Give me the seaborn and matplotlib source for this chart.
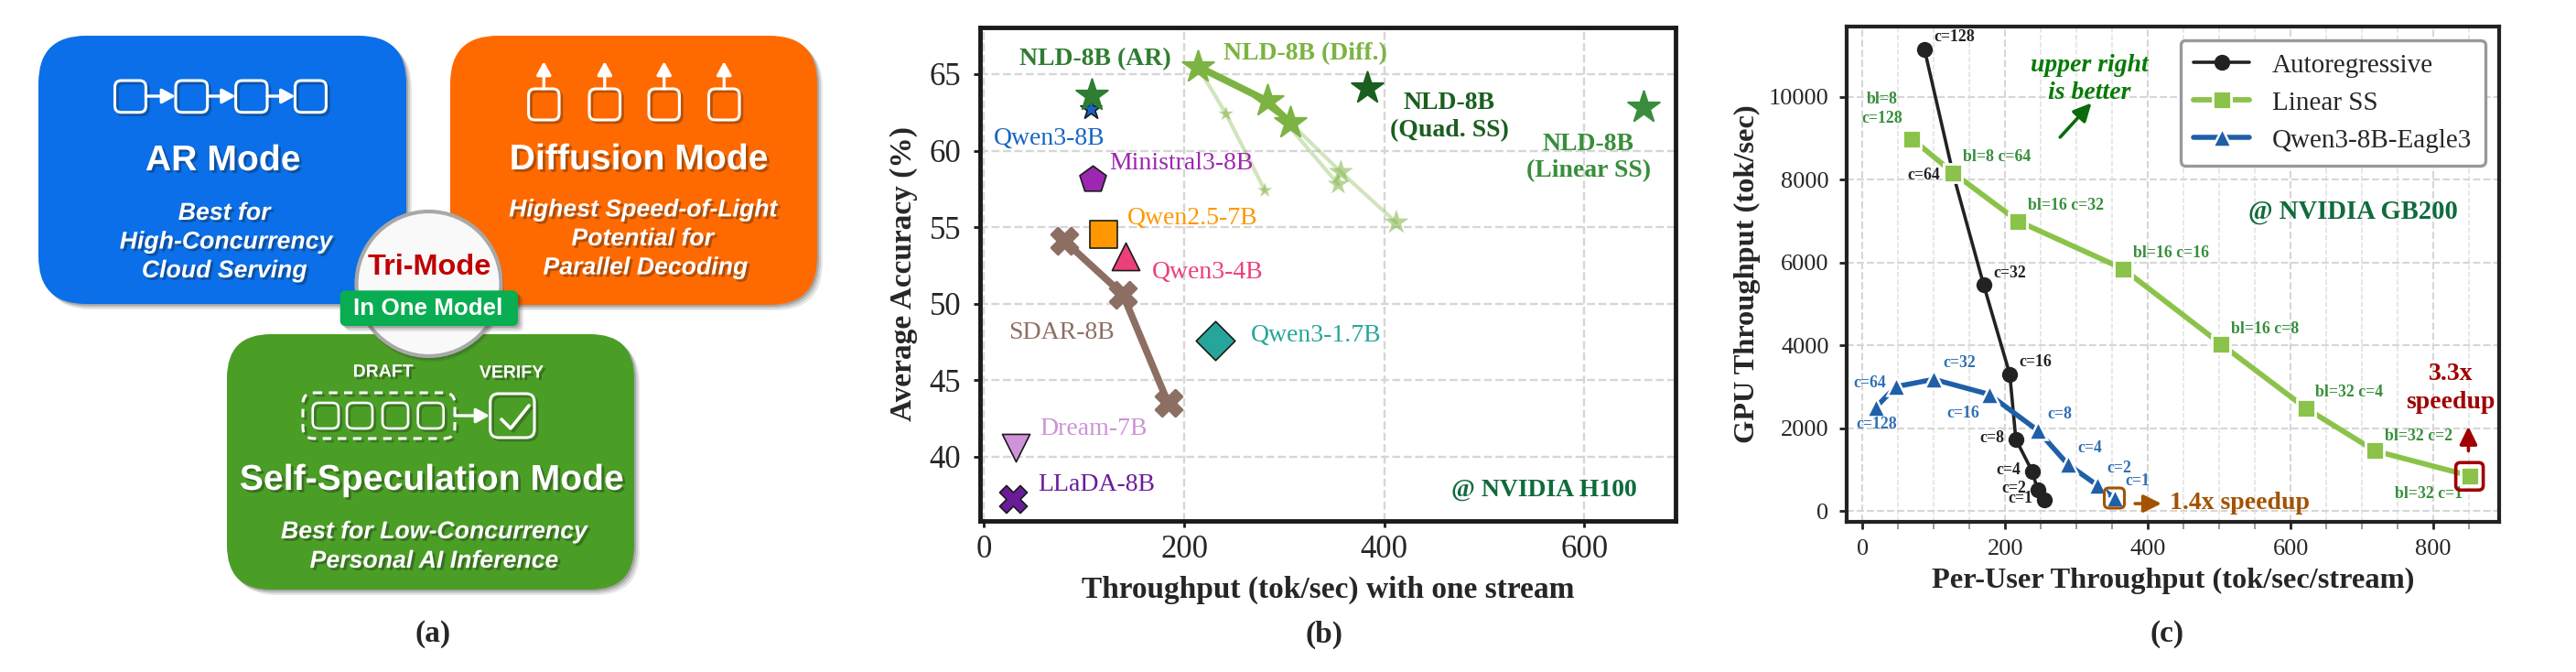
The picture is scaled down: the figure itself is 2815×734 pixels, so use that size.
#!/usr/bin/env python3
# three panel figure: mode diagram, accuracy vs throughput, gpu vs per-user throughput
import numpy as np
import seaborn as sns
import matplotlib.pyplot as plt
import matplotlib.patheffects as pe
from matplotlib.patches import FancyBboxPatch, Circle
from matplotlib.ticker import MultipleLocator
from matplotlib.transforms import Affine2D, ScaledTranslation

W, H, DPI = 2815, 734, 100

# panel b values
diff_x = [213.5, 283, 305.6]
diff_y = [65.5, 63.25, 61.85]
faint_a_x = [213.5, 241.8, 280.6]
faint_a_y = [65.5, 62.4, 57.4]
faint_b_x = [283, 354]
faint_b_y = [63.25, 57.8]
faint_c_x = [305.6, 356.6, 412]
faint_c_y = [61.85, 58.6, 55.3]
sdar_x = [80.4, 138.7, 184]
sdar_y = [54.1, 50.6, 43.5]
model_names = ['NLD-8B (AR)', 'NLD-8B (Quad. SS)', 'NLD-8B (Linear SS)', 'Qwen3-8B', 'Ministral3-8B',
               'Qwen2.5-7B', 'Qwen3-4B', 'Qwen3-1.7B', 'Dream-7B', 'LLaDA-8B']
model_x = [108, 382.7, 659, 107, 108.7, 119, 141.4, 231, 31.6, 29]
model_y = [63.6, 64.1, 62.85, 62.7, 58.1, 54.5, 53.1, 47.6, 40.6, 37.25]

# panel c values
ar_x = [87, 127, 170, 206.5, 215, 238, 245.5, 255.5]
ar_y = [11150, 8147, 5455, 3300, 1730, 950, 507, 270]
ar_labels = ['c=128', 'c=64', 'c=32', 'c=16', 'c=8', 'c=4', 'c=2', 'c=1']
ss_x = [69.6, 127, 218, 365, 502.5, 621, 718, 850.5]
ss_y = [8985, 8168, 7000, 5850, 4027, 2484, 1450, 850]
ss_labels = ['bl=8\nc=128', 'bl=8 c=64', 'bl=16 c=32', 'bl=16 c=16', 'bl=16 c=8', 'bl=32 c=4', 'bl=32 c=2', 'bl=32 c=1']
eagle_x = [19, 46.7, 100, 177.4, 245.5, 287.6, 329, 353]
eagle_y = [2505, 3000, 3178, 2816, 1946, 1128, 621, 310]
eagle_labels = ['c=128', 'c=64', 'c=32', 'c=16', 'c=8', 'c=4', 'c=2', 'c=1']

sns.set_theme(style='ticks')
plt.rcParams['font.family'] = ['Liberation Serif', 'DejaVu Serif']

fig = plt.figure(figsize=(W / DPI, H / DPI), dpi=DPI)


def px_axes(left, top, right, bottom):
    return fig.add_axes([left / W, 1 - bottom / H, (right - left) / W, (bottom - top) / H])


# ---------- panel a, drawn in pixel space ----------
ax_a = fig.add_axes([0, 0, 1, 1])
ax_a.set_xlim(0, W)
ax_a.set_ylim(H, 0)
ax_a.axis('off')
SANS = ['Liberation Sans', 'DejaVu Sans']
shadow_txt = [pe.SimplePatchShadow(offset=(2, -2), shadow_rgbFace='k', alpha=0.35), pe.Normal()]
shadow_line = [pe.SimpleLineShadow(offset=(2, -2), shadow_color='k', alpha=0.3), pe.Normal()]


def rbox(x0, y0, x1, y1, radius, fc, ec='none', lw=0, z=2, shadow=True, **kw):
    if shadow:
        for grow, al in [(6, 0.10), (4, 0.14), (2, 0.2)]:
            ax_a.add_patch(FancyBboxPatch((x0 + grow, y0 + grow), x1 - x0, y1 - y0,
                                          boxstyle=f'round,pad=0,rounding_size={radius}',
                                          fc='k', ec='none', alpha=al, zorder=z))
    ax_a.add_patch(FancyBboxPatch((x0, y0), x1 - x0, y1 - y0, boxstyle=f'round,pad=0,rounding_size={radius}',
                                  fc=fc, ec=ec, lw=lw, zorder=z, **kw))


def small_box(x0, y0, x1, y1, radius=7, z=3, lw=2.2, **kw):
    p = FancyBboxPatch((x0, y0), x1 - x0, y1 - y0, boxstyle=f'round,pad=0,rounding_size={radius}',
                       fc='none', ec='white', lw=lw, zorder=z, **kw)
    p.set_path_effects(shadow_line)
    ax_a.add_patch(p)


def white_arrow(x0, y0, x1, y1):
    ax_a.annotate('', xy=(x1, y1), xytext=(x0, y0), zorder=4,
                  arrowprops=dict(arrowstyle='-|>,head_width=0.3,head_length=0.55', color='white', lw=2.4,
                                  shrinkA=0, shrinkB=0, mutation_scale=16))


def a_text(x, y, s, size, color='white', style='normal', shadow=True, weight='bold', z=5):
    t = ax_a.text(x, y, s, fontsize=size, color=color, style=style, weight=weight, family=SANS,
                  ha='center', va='center', zorder=z)
    if shadow:
        t.set_path_effects(shadow_txt)


rbox(248, 365, 693, 644, 48, '#4a9e26', z=1)
rbox(42, 39, 444, 332, 52, '#0a6fe8', z=2)
rbox(492, 39, 893, 333, 52, '#ff6a00', z=2)

for x0, x1 in [(125.5, 159.4), (192, 226.7), (257.6, 292), (322.4, 356.4)]:
    small_box(x0, 88, x1, 122.7)
for x0, x1 in [(159.4, 192), (226.7, 257.6), (292, 322.4)]:
    white_arrow(x0, 105, x1, 105)
for x0, x1 in [(577.6, 611), (644, 677.6), (709, 742.4), (774.5, 808)]:
    small_box(x0, 97, x1, 131)
    white_arrow((x0 + x1) / 2, 97, (x0 + x1) / 2, 67)

a_text(243.6, 176, 'AR Mode', 28.2)
a_text(245, 233, 'Best for', 19.2, style='italic')
a_text(246.7, 264.5, 'High-Concurrency', 19.2, style='italic')
a_text(245, 296, 'Cloud Serving', 19.2, style='italic')
a_text(698, 175, 'Diffusion Mode', 28.2)
a_text(702.4, 229.4, 'Highest Speed-of-Light', 19.2, style='italic')
a_text(702, 261, 'Potential for', 19.2, style='italic')
a_text(705, 292.6, 'Parallel Decoding', 19.2, style='italic')
a_text(471.5, 525, 'Self-Speculation Mode', 28.2)
a_text(474, 581, 'Best for Low-Concurrency', 19.2, style='italic')
a_text(474, 613, 'Personal AI Inference', 19.2, style='italic')

# draft / verify icon
small_box(331, 429, 497, 479, radius=12, linestyle=(0, (3, 2.4)))
for x0, x1 in [(341.7, 370), (379, 407), (418, 446), (456.7, 484.7)]:
    small_box(x0, 440, x1, 468, lw=1.9)
white_arrow(497, 454, 535, 454)
small_box(535.7, 430, 584, 478, radius=9)
ax_a.plot([548, 558, 578], [458, 468, 443], color='white', lw=2.6, zorder=4, path_effects=shadow_line)
a_text(418.7, 407, 'DRAFT', 14)
a_text(559, 408, 'VERIFY', 14)

# center badge
for grow, al in [(5, 0.12), (3, 0.16)]:
    ax_a.add_patch(Circle((468.5 + grow / 2, 310 + grow), 80, fc='k', ec='none', alpha=al, zorder=6))
ax_a.add_patch(Circle((468.5, 310), 79, fc='#f9f9f9', ec='#a8a8a8', lw=3, zorder=6))
a_text(469, 291.5, 'Tri-Mode', 23.4, color='#c00000', shadow=False, z=7)
rbox(371.7, 317.3, 566, 356, 6, '#09ad52', z=7)
a_text(468, 336.7, 'In One Model', 18.7, shadow=False, z=8)

ax_a.text(473, 693, '(a)', fontsize=24, weight='bold', ha='center', va='center')
ax_a.text(1447, 693, '(b)', fontsize=24, weight='bold', ha='center', va='center')
ax_a.text(2368, 693, '(c)', fontsize=24, weight='bold', ha='center', va='center')

# ---------- panel b ----------
ax_b = px_axes(1071, 30, 1831, 569)
ax_b.patch.set_alpha(0)
GRID = '#d6d6d6'
GREEN_DIFF = '#7cb342'


def plain_line(ax, x, y, color, lw, alpha=1.0, z=3):
    sns.lineplot(x=x, y=y, sort=False, estimator=None, errorbar=None, color=color, lw=lw, alpha=alpha,
                 ax=ax, legend=False, zorder=z)


def points(ax, x, y, marker, size, color, edge='none', lw=0.0, alpha=1.0, z=4):
    sns.scatterplot(x=x, y=y, marker=marker, s=size, color=color, edgecolor=edge, linewidth=lw, alpha=alpha,
                    ax=ax, legend=False, zorder=z)


plain_line(ax_b, faint_a_x, faint_a_y, GREEN_DIFF, 3, alpha=0.35)
plain_line(ax_b, faint_b_x, faint_b_y, GREEN_DIFF, 3, alpha=0.35)
plain_line(ax_b, faint_c_x, faint_c_y, GREEN_DIFF, 3, alpha=0.35)
points(ax_b, faint_a_x[1:], faint_a_y[1:], '*', 150, GREEN_DIFF, alpha=0.55)
points(ax_b, faint_b_x[1:], faint_b_y[1:], '*', 320, GREEN_DIFF, alpha=0.55)
points(ax_b, faint_c_x[1:], faint_c_y[1:], '*', 420, GREEN_DIFF, alpha=0.55)
plain_line(ax_b, diff_x, diff_y, GREEN_DIFF, 5.5, z=5)
points(ax_b, diff_x, diff_y, '*', 680, GREEN_DIFF, edge=GREEN_DIFF, lw=1.5, z=6)
plain_line(ax_b, sdar_x, sdar_y, '#8d6e63', 5.5)
points(ax_b, sdar_x, sdar_y, 'X', 430, '#8d6e63', edge='#8d6e63', lw=2, z=5)

model_style = [('*', 680, '#2e7d32', '#2e7d32', 1.5, 7), ('*', 680, '#1b5e20', '#1b5e20', 1.5, 6), ('*', 680, '#388e3c', '#388e3c', 1.5, 6),
               ('*', 300, '#1565c0', 'k', 1.2, 6), ('p', 480, '#9c27b0', 'k', 1.2, 6), ('s', 470, '#ff9800', 'k', 1.2, 6),
               ('^', 470, '#ec407a', 'k', 1.2, 6), ('D', 470, '#26a69a', 'k', 1.2, 6), ('v', 470, '#ce93d8', 'k', 1.2, 6),
               ('X', 470, '#6a1b9a', 'k', 1.2, 6)]
for mx, my, st in zip(model_x, model_y, model_style):
    points(ax_b, [mx], [my], st[0], st[1], st[2], edge=st[3], lw=st[4], z=st[5])

b_texts = [(111, 66.0, 'NLD-8B (AR)', '#2e7d32', 'bold'), (320.6, 66.35, 'NLD-8B (Diff.)', GREEN_DIFF, 'bold'),
           (465, 62.2, 'NLD-8B\n(Quad. SS)', '#1b5e20', 'bold'), (604, 59.55, 'NLD-8B\n(Linear SS)', '#388e3c', 'bold'),
           (65.4, 60.8, 'Qwen3-8B', '#1565c0', 'normal'), (197.5, 59.15, 'Ministral3-8B', '#9c27b0', 'normal'),
           (208, 55.6, 'Qwen2.5-7B', '#ff9800', 'normal'), (223, 52.05, 'Qwen3-4B', '#ec407a', 'normal'),
           (77.6, 48.1, 'SDAR-8B', '#8d6e63', 'normal'), (332, 47.9, 'Qwen3-1.7B', '#26a69a', 'normal'),
           (109, 41.8, 'Dream-7B', '#ce93d8', 'normal'), (112, 38.15, 'LLaDA-8B', '#6a1b9a', 'normal'),
           (559.6, 37.8, '@ NVIDIA H100', '#0f6b3c', 'bold')]
for tx, ty, s, c, wt in b_texts:
    ax_b.text(tx, ty, s, color=c, weight=wt, fontsize=20, ha='center', va='center', linespacing=1.25, zorder=8)

ax_b.set_xlim(-4, 691)
ax_b.set_ylim(35.8, 68.05)
ax_b.set_xticks([0, 200, 400, 600])
ax_b.set_yticks([40, 45, 50, 55, 60, 65])
ax_b.grid(True, color=GRID, lw=1.7, ls='--')
ax_b.set_axisbelow(True)
ax_b.tick_params(labelsize=25, width=2, length=5, color='k')
ax_b.tick_params(axis='x', pad=6)
ax_b.tick_params(axis='y', pad=10)
ax_b.set_xlabel('Throughput (tok/sec) with one stream', fontsize=24, weight='bold', labelpad=8)
ax_b.set_ylabel('Average Accuracy (%)', fontsize=24, weight='bold', labelpad=9)
for sp in ax_b.spines.values():
    sp.set_linewidth(3.5)
    sp.set_color('k')

# ---------- panel c ----------
ax_c = px_axes(2018, 29, 2731, 570)
ax_c.patch.set_alpha(0)
AR_C, SS_C, EA_C = '#222222', '#8bc34a', '#1f5fa8'

sns.lineplot(x=ar_x, y=ar_y, sort=False, estimator=None, errorbar=None, color=AR_C, lw=2.6, marker='o', markersize=12.5,
             markeredgecolor=AR_C, markeredgewidth=0, label='Autoregressive', ax=ax_c, zorder=3)
sns.lineplot(x=ss_x, y=ss_y, sort=False, estimator=None, errorbar=None, color=SS_C, lw=4.2, marker='s', markersize=14,
             markeredgecolor='white', markeredgewidth=2, label='Linear SS', ax=ax_c, zorder=4)
sns.lineplot(x=eagle_x, y=eagle_y, sort=False, estimator=None, errorbar=None, color=EA_C, lw=4, marker='^', markersize=14,
             markeredgecolor='white', markeredgewidth=1.8, label='Qwen3-8B-Eagle3', ax=ax_c, zorder=4)


def c_labels(labels, pos, color):
    for s, (tx, ty) in zip(labels, pos):
        ax_c.text(tx, ty, s, color=color, fontsize=12.8, weight='bold', ha='center', va='center', linespacing=1.3, zorder=6)


c_labels(ar_labels, [(129, 11450), (85.7, 8116), (206.5, 5745), (242.4, 3602), (181.3, 1750), (204.2, 983), (211.9, 538), (221, 290)], '#222222')
c_labels(ss_labels, [(27.5, 9700), (189, 8540), (285, 7370), (433, 6220), (563.7, 4390), (682, 2857), (779, 1800), (793, 414)], '#388e3c')
c_labels(eagle_labels, [(20, 2100), (10.7, 3075), (136, 3570), (141.5, 2360), (276, 2340), (319, 1520), (360, 1025), (385, 725)], '#2f6fb5')

ax_c.text(318, 10430, 'upper right\nis better', color='#077a07', fontsize=20, weight='bold', style='italic',
          ha='center', va='center', linespacing=1.3)
ax_c.text(687, 7215, '@ NVIDIA GB200', color='#0f6b3c', fontsize=20.6, weight='bold', ha='center', va='center')
ax_c.text(824.5, 2970, '3.3x\nspeedup', color='#a00000', fontsize=20, weight='bold', ha='center', va='center', linespacing=1.3)
ax_c.text(529, 197, '1.4x speedup', color='#a35200', fontsize=20, weight='bold', ha='center', va='center')


def c_arrow(p0, p1, color):
    ax_c.annotate('', xy=p1, xytext=p0, arrowprops=dict(arrowstyle='-|>,head_width=0.32,head_length=0.65', color=color,
                                                       lw=2.6, shrinkA=0, shrinkB=0, mutation_scale=18), zorder=6)


c_arrow((277, 9027), (321, 9855), '#0a6b0a')
c_arrow((849, 1450), (849, 2040), '#a00000')
c_arrow((382, 176), (419, 176), '#a35200')


def highlight(x, y, size, color, lw):
    # rounded frame keeps its pixel size, only the center comes from the data
    tr = Affine2D() + ScaledTranslation(x, y, ax_c.transData)
    ax_c.add_patch(FancyBboxPatch((-size / 2, -size / 2), size, size, boxstyle='round,pad=0,rounding_size=5',
                                  fc='none', ec=color, lw=lw, transform=tr, zorder=7))


highlight(ss_x[-1], ss_y[-1] - 15, 30, '#a00000', 2.6)
highlight(eagle_x[-1], eagle_y[-1], 22, '#a35200', 2.2)

ax_c.set_xlim(-22, 892)
ax_c.set_ylim(-265, 11700)
ax_c.set_xticks([0, 200, 400, 600, 800])
ax_c.set_yticks([0, 2000, 4000, 6000, 8000, 10000])
ax_c.xaxis.set_minor_locator(MultipleLocator(50))
ax_c.grid(True, which='major', color=GRID, lw=1.5, ls='--')
ax_c.grid(True, which='minor', axis='x', color='#e0e0e0', lw=1.1, ls='--')
ax_c.set_axisbelow(True)
ax_c.tick_params(labelsize=19, width=2, length=6, color='#222222', pad=8)
ax_c.tick_params(which='minor', width=1.2, length=6, color='#888888')
ax_c.set_xlabel('Per-User Throughput (tok/sec/stream)', fontsize=23.3, weight='bold', labelpad=6)
ax_c.set_ylabel('GPU Throughput (tok/sec)', fontsize=23.3, weight='bold', labelpad=6)
for sp in ax_c.spines.values():
    sp.set_linewidth(3)
    sp.set_color('#222222')

leg = ax_c.legend(loc='upper right', bbox_to_anchor=(0.979, 0.973), borderaxespad=0, fontsize=21, frameon=True,
                  fancybox=True, framealpha=1, edgecolor='#999999', handlelength=2.1, labelspacing=0.5,
                  handletextpad=0.85, borderpad=0.5)
leg.get_frame().set_linewidth(2.4)

fig.savefig('out.png', dpi=DPI, facecolor='white')
